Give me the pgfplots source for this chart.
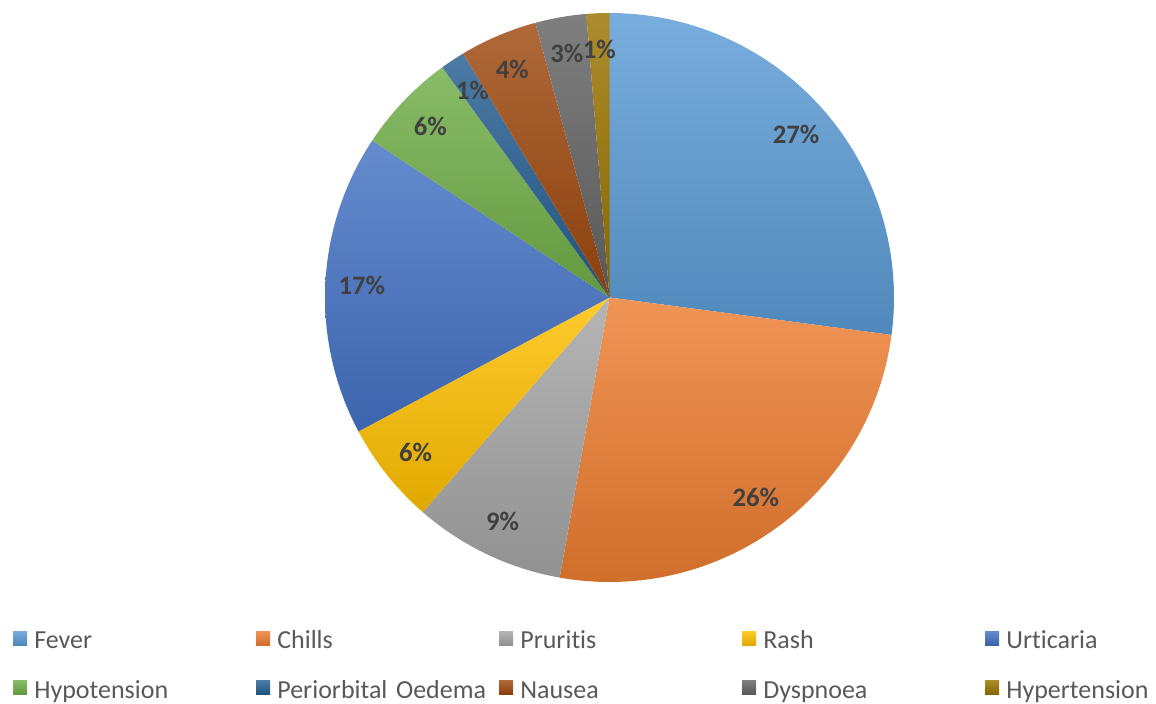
\documentclass[border=0pt]{standalone}
\usepackage{pgfplots}
\pgfplotsset{compat=1.18}
\usepackage{fontspec}
\setmainfont{Carlito}[Ligatures={NoCommon}]
\definecolor{cFever}{HTML}{5B9BD5}
\definecolor{cChills}{HTML}{ED7D31}
\definecolor{cPruritis}{HTML}{A5A5A5}
\definecolor{cRash}{HTML}{FFC000}
\definecolor{cUrticaria}{HTML}{4472C4}
\definecolor{cHypotension}{HTML}{70AD47}
\definecolor{cPeriorbital}{HTML}{255E91}
\definecolor{cNausea}{HTML}{9E480E}
\definecolor{cDyspnoea}{HTML}{636363}
\definecolor{cHypertension}{HTML}{997300}
\definecolor{lbltext}{HTML}{404040}
\definecolor{legtext}{HTML}{595959}
\tikzset{lbl/.style={font=\fontsize{20}{23}\selectfont\bfseries, text=lbltext}}
\def\pieStart{90}
\newcommand\slice[4]{%
  \pgfmathsetmacro\sA{\pieStart}%
  \pgfmathsetmacro\sB{\pieStart-3.6*#1}%
  \pgfmathsetmacro\sM{(\sA+\sB)/2}%
  \pgfmathsetmacro\lx{609.5+248*cos(\sM)}%
  \pgfmathsetmacro\ly{405.5+248*sin(\sM)}%
  \edef\tmp{\noexpand\addplot[draw=none, top color=#2!82!white, bottom color=#2!88!black, domain=\sB:\sA, samples=90]
     ({609.5+284.5*cos(x)},{405.5+284.5*sin(x)}) -- (axis cs:609.5,405.5) -- cycle;
     \noexpand\addlegendentry{#4}
     \noexpand\node[lbl] at (axis cs:\lx,\ly) {#3};}%
  \tmp
  \xdef\pieStart{\sB}%
}
\begin{document}
\begin{tikzpicture}
\begin{axis}[at={(0,0)}, anchor=south west, scale only axis,
  width=867pt, height=527.25pt, xmin=0, xmax=1156, ymin=0, ymax=703,
  hide axis, clip=false,
  legend columns=5,
  legend image code/.code={\fill[#1] (0pt,-1.5pt) rectangle (10.5pt,9pt);},
  legend style={at={(axis cs:13,72)}, anchor=north west, draw=none, fill=none,
    inner sep=0pt, outer sep=0pt, row sep=19.5pt, column sep=0pt,
    font=\fontsize{19.5}{22}\selectfont, text=legtext,
    nodes={text width=160.75pt, align=left, inner xsep=5.5pt, inner ysep=0pt,
      text height=13pt, text depth=4pt}},
]
\slice{27.1}{cFever}{27\%}{Fever}
\slice{25.7}{cChills}{26\%}{Chills}
\slice{8.6}{cPruritis}{9\%}{Pruritis}
\slice{5.8}{cRash}{6\%}{Rash}
\slice{17.1}{cUrticaria}{17\%}{Urticaria}
\slice{5.7}{cHypotension}{6\%}{Hypotension}
\slice{1.4}{cPeriorbital}{1\%}{Periorbital Oedema}
\slice{4.4}{cNausea}{4\%}{Nausea}
\slice{2.9}{cDyspnoea}{3\%}{Dyspnoea}
\slice{1.3}{cHypertension}{1\%}{Hypertension}
\end{axis}
\pgfresetboundingbox
\path (0,0) rectangle (867pt,527.25pt);
\end{tikzpicture}
\end{document}
